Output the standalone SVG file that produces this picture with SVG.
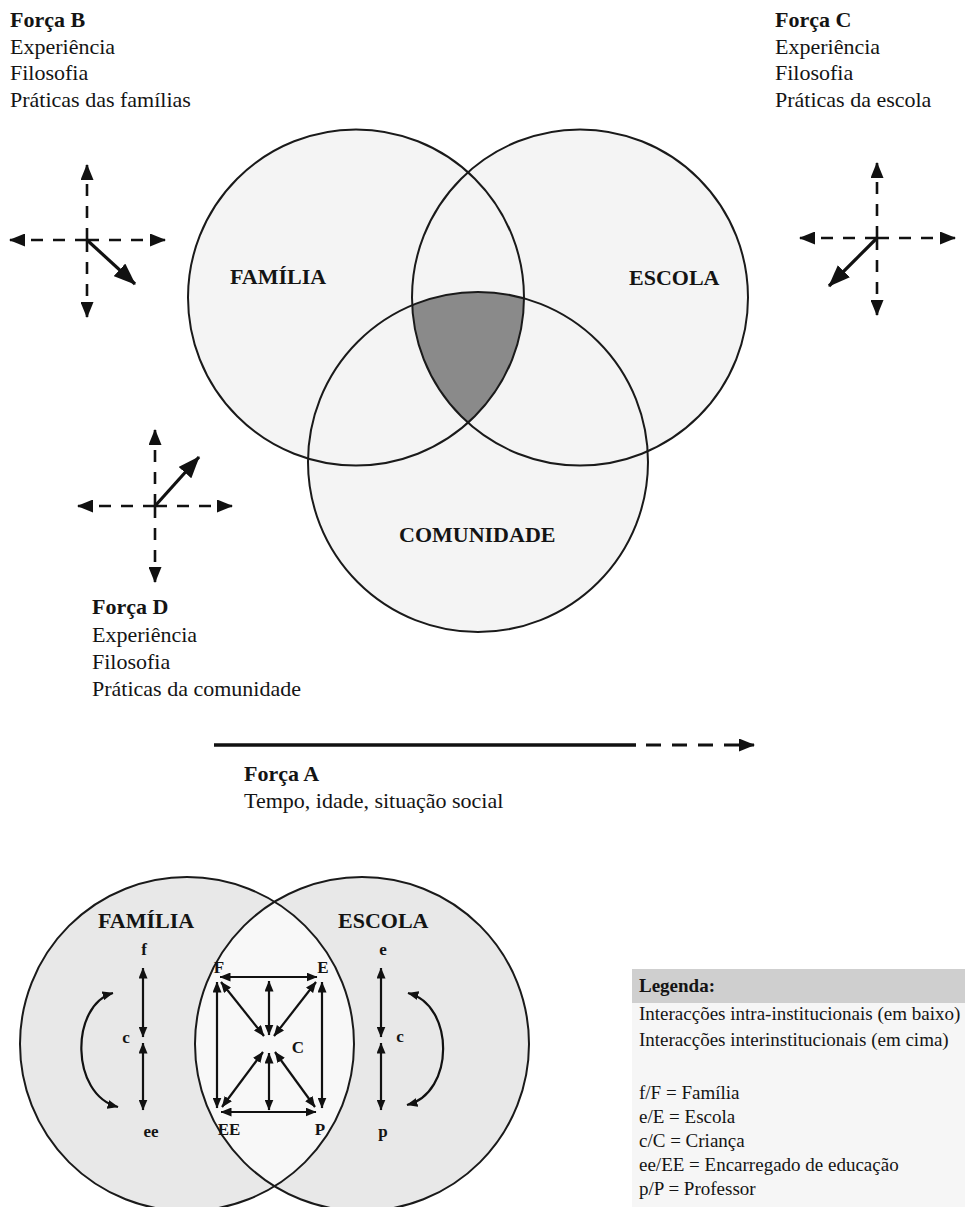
<svg xmlns="http://www.w3.org/2000/svg" width="965" height="1207" viewBox="0 0 965 1207">
<style>
text{font-family:"Liberation Serif","Times New Roman",serif;fill:#141414}
.t{font-size:22px}
.b{font-weight:bold}
.lab{font-size:22px;font-weight:bold}
.sm{font-size:17px;font-weight:bold;text-anchor:middle}
.lg{font-size:19px}
.ring{fill:none;stroke:#1a1a1a;stroke-width:2}
.dash{stroke:#111;stroke-width:2.6;stroke-dasharray:12 10;fill:none}
.solid{stroke:#111;stroke-width:3.2;fill:none}
.thin{stroke:#111;stroke-width:2.2;fill:none;marker-start:url(#hb);marker-end:url(#hb)}
</style>
<defs>
<marker id="hd" markerUnits="userSpaceOnUse" viewBox="0 0 16 13" markerWidth="16" markerHeight="13" refX="15" refY="6.5" orient="auto-start-reverse"><path d="M0,0 L16,6.5 L0,13 Z" fill="#111"/></marker>
<marker id="hs" markerUnits="userSpaceOnUse" viewBox="0 0 22 17" markerWidth="22" markerHeight="17" refX="21" refY="8.5" orient="auto-start-reverse"><path d="M0,0 L22,8.5 L0,17 Z" fill="#111"/></marker>
<marker id="hb" markerUnits="userSpaceOnUse" viewBox="0 0 11 9" markerWidth="11" markerHeight="9" refX="10.5" refY="4.5" orient="auto-start-reverse"><path d="M0,0 L11,4.5 L0,9 Z" fill="#111"/></marker>
</defs>
<rect width="965" height="1207" fill="#ffffff"/>

<g id="venn-fills">
<circle cx="356" cy="297.5" r="168" fill="#f4f4f4"/>
<circle cx="580" cy="297.5" r="168" fill="#f4f4f4"/>
<circle cx="478" cy="462" r="170" fill="#f4f4f4"/>
<path d="M412.2,305.2 A170,170 0 0 1 524,298.3 A168,168 0 0 1 468,422.7 A168,168 0 0 1 412.2,305.2 Z" fill="#8a8a8a"/>
</g>
<g id="familia">
<circle class="ring" cx="356" cy="297.5" r="168"/>
<text class="lab" x="230" y="284">FAMÍLIA</text>
</g>
<g id="escola">
<circle class="ring" cx="580" cy="297.5" r="168"/>
<text class="lab" x="629" y="285">ESCOLA</text>
</g>
<g id="comunidade">
<circle class="ring" cx="478" cy="462" r="170"/>
<text class="lab" x="399" y="542">COMUNIDADE</text>
</g>

<g id="forca-b">
<text class="t b" x="10" y="27">Força B</text>
<text class="t" x="10" y="54">Experiência</text>
<text class="t" x="10" y="80">Filosofia</text>
<text class="t" x="10" y="107">Práticas das famílias</text>
</g>
<g id="forca-c">
<text class="t b" x="775" y="27">Força C</text>
<text class="t" x="775" y="54">Experiência</text>
<text class="t" x="775" y="80">Filosofia</text>
<text class="t" x="775" y="107">Práticas da escola</text>
</g>
<g id="forca-d">
<text class="t b" x="92" y="614">Força D</text>
<text class="t" x="92" y="642">Experiência</text>
<text class="t" x="92" y="669">Filosofia</text>
<text class="t" x="92" y="696">Práticas da comunidade</text>
</g>
<g id="forca-a">
<text class="t b" x="244" y="781">Força A</text>
<text class="t" x="244" y="808">Tempo, idade, situação social</text>
</g>

<g id="connectors">
<g id="cross-b">
<line class="dash" x1="87" y1="240" x2="87" y2="165" marker-end="url(#hd)"/>
<line class="dash" x1="87" y1="240" x2="87" y2="317" marker-end="url(#hd)"/>
<line class="dash" x1="87" y1="240" x2="10" y2="240" marker-end="url(#hd)"/>
<line class="dash" x1="87" y1="240" x2="165" y2="240" marker-end="url(#hd)"/>
<line class="solid" x1="87" y1="240" x2="135" y2="284" marker-end="url(#hs)"/>
</g>
<g id="cross-c">
<line class="dash" x1="877" y1="238" x2="877" y2="163" marker-end="url(#hd)"/>
<line class="dash" x1="877" y1="238" x2="877" y2="315" marker-end="url(#hd)"/>
<line class="dash" x1="877" y1="238" x2="800" y2="238" marker-end="url(#hd)"/>
<line class="dash" x1="877" y1="238" x2="955" y2="238" marker-end="url(#hd)"/>
<line class="solid" x1="877" y1="238" x2="829" y2="286" marker-end="url(#hs)"/>
</g>
<g id="cross-d">
<line class="dash" x1="155" y1="506" x2="155" y2="430" marker-end="url(#hd)"/>
<line class="dash" x1="155" y1="506" x2="155" y2="582" marker-end="url(#hd)"/>
<line class="dash" x1="155" y1="506" x2="78" y2="506" marker-end="url(#hd)"/>
<line class="dash" x1="155" y1="506" x2="232" y2="506" marker-end="url(#hd)"/>
<line class="solid" x1="155" y1="506" x2="199" y2="457" marker-end="url(#hs)"/>
</g>
<g id="arrow-a">
<line x1="214" y1="745" x2="636" y2="745" stroke="#111" stroke-width="3.5"/>
<line x1="646" y1="745" x2="754" y2="745" stroke="#111" stroke-width="3" stroke-dasharray="15 11" marker-end="url(#hd)"/>
</g>
</g>

<g id="bottom-fills">
<circle cx="187" cy="1044" r="167" fill="#e8e8e8"/>
<circle cx="362" cy="1044" r="167" fill="#e8e8e8"/>
<path d="M274.5,901.8 A167,167 0 0 1 274.5,1186.2 A167,167 0 0 1 274.5,901.8 Z" fill="#f8f8f8"/>
</g>
<g id="familia-b">
<circle class="ring" cx="187" cy="1044" r="167"/>
<text class="lab" x="98" y="928">FAMÍLIA</text>
<text class="sm" x="144" y="955">f</text>
<text class="sm" x="126" y="1043">c</text>
<text class="sm" x="151" y="1137">ee</text>
</g>
<g id="escola-b">
<circle class="ring" cx="362" cy="1044" r="167"/>
<text class="lab" x="338" y="928">ESCOLA</text>
<text class="sm" x="383" y="955">e</text>
<text class="sm" x="400" y="1042">c</text>
<text class="sm" x="383" y="1137">p</text>
</g>
<g id="inter">
<text class="sm" x="219" y="973">F</text>
<text class="sm" x="323" y="973">E</text>
<text class="sm" x="298" y="1053">C</text>
<text class="sm" x="229" y="1135">EE</text>
<text class="sm" x="320" y="1135">P</text>
</g>
<g id="bottom-connectors">
<line class="thin" x1="143" y1="968" x2="143" y2="1037"/>
<line class="thin" x1="143" y1="1043" x2="143" y2="1110"/>
<line class="thin" x1="381" y1="968" x2="381" y2="1037"/>
<line class="thin" x1="381" y1="1043" x2="381" y2="1110"/>
<path class="thin" d="M113,993 C70,1005 70,1095 118,1107"/>
<path class="thin" d="M408,993 C455,1005 455,1093 407,1105"/>
<line class="thin" x1="220" y1="977" x2="317" y2="977"/>
<line class="thin" x1="221" y1="1112" x2="316" y2="1112"/>
<line class="thin" x1="217" y1="982" x2="217" y2="1108"/>
<line class="thin" x1="322" y1="982" x2="322" y2="1108"/>
<line class="thin" x1="269" y1="981" x2="269" y2="1035"/>
<line class="thin" x1="269" y1="1053" x2="269" y2="1110"/>
<line class="thin" x1="221" y1="982" x2="264" y2="1036"/>
<line class="thin" x1="316" y1="982" x2="274" y2="1036"/>
<line class="thin" x1="222" y1="1107" x2="263" y2="1052"/>
<line class="thin" x1="315" y1="1107" x2="275" y2="1052"/>
</g>

<g id="legenda">
<rect x="632" y="1003" width="333" height="204" fill="#f6f6f6"/>
<rect x="632" y="969" width="333" height="34" fill="#cfcfcf"/>
<text class="lg b" x="639" y="992">Legenda:</text>
<text class="lg" x="639" y="1020">Interacções intra-institucionais (em baixo)</text>
<text class="lg" x="639" y="1046">Interacções interinstitucionais (em cima)</text>
<text class="lg" x="639" y="1099">f/F = Família</text>
<text class="lg" x="639" y="1123">e/E = Escola</text>
<text class="lg" x="639" y="1147">c/C = Criança</text>
<text class="lg" x="639" y="1171">ee/EE = Encarregado de educação</text>
<text class="lg" x="639" y="1195">p/P = Professor</text>
</g>
</svg>
